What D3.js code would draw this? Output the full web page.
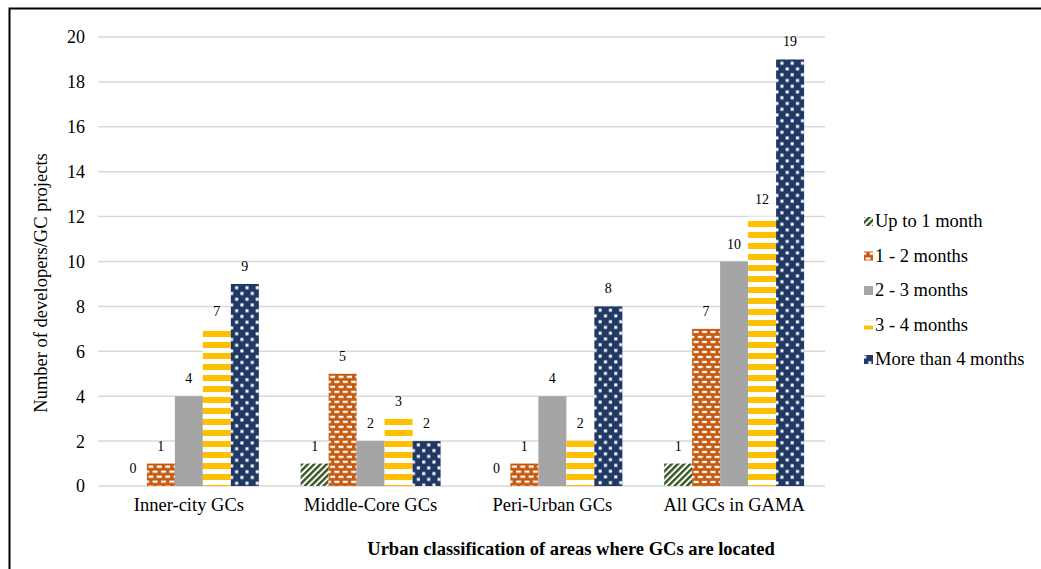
<!DOCTYPE html>
<html>
<head>
<meta charset="utf-8">
<script src="https://cdn.jsdelivr.net/npm/d3@7"></script>
<style>
  html, body { margin: 0; padding: 0; background: #fff; }
  svg { display: block; font-family: "Liberation Serif", "Times New Roman", serif; }
  svg text { font-family: "Liberation Serif", "Times New Roman", serif; }
</style>
</head>
<body>
<svg id="chart" width="1041" height="569"></svg>
<script>
// Urban classification groups
const categories = ["Inner-city GCs", "Middle-Core GCs", "Peri-Urban GCs", "All GCs in GAMA"];
// Duration series
const seriesNames = ["Up to 1 month", "1 - 2 months", "2 - 3 months", "3 - 4 months", "More than 4 months"];
// Counts per series, one entry per category
const upTo1 = [0, 1, 0, 1];
const m1to2 = [1, 5, 1, 7];
const m2to3 = [4, 2, 4, 10];
const m3to4 = [7, 3, 2, 12];
const over4 = [9, 2, 8, 19];
const yTicks = [0, 2, 4, 6, 8, 10, 12, 14, 16, 18, 20];

const seriesValues = [upTo1, m1to2, m2to3, m3to4, over4];
const fills = ["url(#pDiag)", "url(#pBrick)", "#a5a5a5", "url(#pHStripe)", "url(#pDots)"];
// Whether a series' fill starts at the bar's own top edge (true) or runs on a page-wide grid (false)
const fillAtBarTop = [true, true, true, false, true];

const svg = d3.select("#chart");
const defs = svg.append("defs");

// Dark green diagonal stripes
const pDiag = defs.append("pattern").attr("id", "pDiag").attr("patternUnits", "userSpaceOnUse")
  .attr("width", 4.4).attr("height", 8).attr("patternTransform", "rotate(45)");
pDiag.append("rect").attr("width", 4.4).attr("height", 8).attr("fill", "#fff");
pDiag.append("rect").attr("width", 2.4).attr("height", 8).attr("fill", "#375623");

// Orange with white brick dashes
const pBrick = defs.append("pattern").attr("id", "pBrick").attr("patternUnits", "userSpaceOnUse")
  .attr("width", 8.4).attr("height", 10);
pBrick.append("rect").attr("width", 8.4).attr("height", 10).attr("fill", "#c55a11");
pBrick.append("rect").attr("x", 1.5).attr("y", 2).attr("width", 5).attr("height", 2.2).attr("fill", "#fff");
pBrick.append("rect").attr("x", 5.7).attr("y", 7).attr("width", 5).attr("height", 2.2).attr("fill", "#fff");
pBrick.append("rect").attr("x", -2.7).attr("y", 7).attr("width", 5).attr("height", 2.2).attr("fill", "#fff");

// Yellow horizontal stripes
const pH = defs.append("pattern").attr("id", "pHStripe").attr("patternUnits", "userSpaceOnUse")
  .attr("width", 10).attr("height", 11).attr("y", 1);
pH.append("rect").attr("width", 10).attr("height", 11).attr("fill", "#fff");
pH.append("rect").attr("width", 10).attr("height", 6).attr("fill", "#ffc000");

// Navy with staggered white dots
const pDots = defs.append("pattern").attr("id", "pDots").attr("patternUnits", "userSpaceOnUse")
  .attr("width", 10.3).attr("height", 11.5);
pDots.append("rect").attr("width", 10.3).attr("height", 11.5).attr("fill", "#203864");
pDots.append("rect").attr("x", 4.3).attr("y", 2.3).attr("width", 3).attr("height", 3).attr("fill", "#fff");
pDots.append("rect").attr("x", -0.7).attr("y", 8).attr("width", 3).attr("height", 3).attr("fill", "#fff");
pDots.append("rect").attr("x", 9.6).attr("y", 8).attr("width", 3).attr("height", 3).attr("fill", "#fff");

// Outer frame
svg.append("rect").attr("x", 9.5).attr("y", 8.5).attr("width", 1100).attr("height", 700)
  .attr("fill", "none").attr("stroke", "#000").attr("stroke-width", 2);

const plotLeft = 98, plotRight = 825, plotTop = 37, plotBottom = 486;

const x0 = d3.scaleBand().domain(categories).range([plotLeft, plotRight])
  .paddingInner(0.23).paddingOuter(0.115);
const x1 = d3.scaleBand().domain(seriesNames).range([0, x0.bandwidth()]);
const y = d3.scaleLinear().domain([0, 20]).range([plotBottom, plotTop]);

// Gridlines
svg.append("g").selectAll("line").data(yTicks).join("line")
  .attr("x1", plotLeft).attr("x2", plotRight)
  .attr("y1", d => y(d)).attr("y2", d => y(d))
  .attr("stroke", "#d9d9d9").attr("stroke-width", 1.5);

// Y axis tick labels
const yAxis = d3.axisLeft(y).tickValues(yTicks).tickSize(0).tickPadding(0);
const gy = svg.append("g").attr("transform", `translate(${plotLeft - 13},0)`).call(yAxis)
  .attr("font-family", null).attr("font-size", null);
gy.select(".domain").remove();
gy.selectAll("text").attr("font-size", 18).attr("fill", "#000").attr("dy", "0.33em");

// X axis category labels
const xAxis = d3.axisBottom(x0).tickSize(0).tickPadding(0);
const gx = svg.append("g").attr("transform", `translate(0,${plotBottom + 25})`).call(xAxis)
  .attr("font-family", null).attr("font-size", null);
gx.select(".domain").remove();
gx.selectAll("text").attr("font-size", 18.5).attr("fill", "#000").attr("y", 0).attr("dy", 0);

// Bars and value labels
const groups = svg.append("g").selectAll("g").data(categories).join("g")
  .attr("transform", d => `translate(${x0(d)},0)`);

groups.each(function(cat, ci) {
  const g = d3.select(this);
  const rows = seriesNames.map((s, si) => ({ s, si, v: seriesValues[si][ci] }));
  g.selectAll("g.bar").data(rows).join("g")
    .attr("class", "bar")
    .attr("transform", d => `translate(${x1(d.s)},${fillAtBarTop[d.si] ? y(d.v) : 0})`)
    .append("rect")
    .attr("x", 0)
    .attr("y", d => fillAtBarTop[d.si] ? 0 : y(d.v))
    .attr("width", x1.bandwidth())
    .attr("height", d => y(0) - y(d.v))
    .attr("fill", d => fills[d.si]);
  g.selectAll("text").data(rows).join("text")
    .attr("x", d => x1(d.s) + x1.bandwidth() / 2)
    .attr("y", d => y(d.v) - 13)
    .attr("text-anchor", "middle")
    .attr("font-size", 14)
    .attr("fill", "#000")
    .text(d => d.v);
});

// Legend
const legend = svg.append("g").selectAll("g").data(seriesNames).join("g")
  .attr("transform", (d, i) => `translate(864,${221 + i * 34.5})`);
legend.append("rect").attr("x", 0).attr("y", -4).attr("width", 9).attr("height", 9)
  .attr("fill", (d, i) => fills[i]);
legend.append("text").attr("x", 11).attr("y", 0).attr("dy", "0.35em")
  .attr("font-size", 18.5).attr("fill", "#000").text(d => d);

// Axis titles
svg.append("text").attr("x", 571).attr("y", 555).attr("text-anchor", "middle")
  .attr("font-size", 18.5).attr("font-weight", "bold").attr("fill", "#000")
  .text("Urban classification of areas where GCs are located");

svg.append("text").attr("transform", "translate(47,283) rotate(-90)")
  .attr("text-anchor", "middle").attr("font-size", 18.5).attr("fill", "#000")
  .text("Number of developers/GC projects");
</script>
</body>
</html>
